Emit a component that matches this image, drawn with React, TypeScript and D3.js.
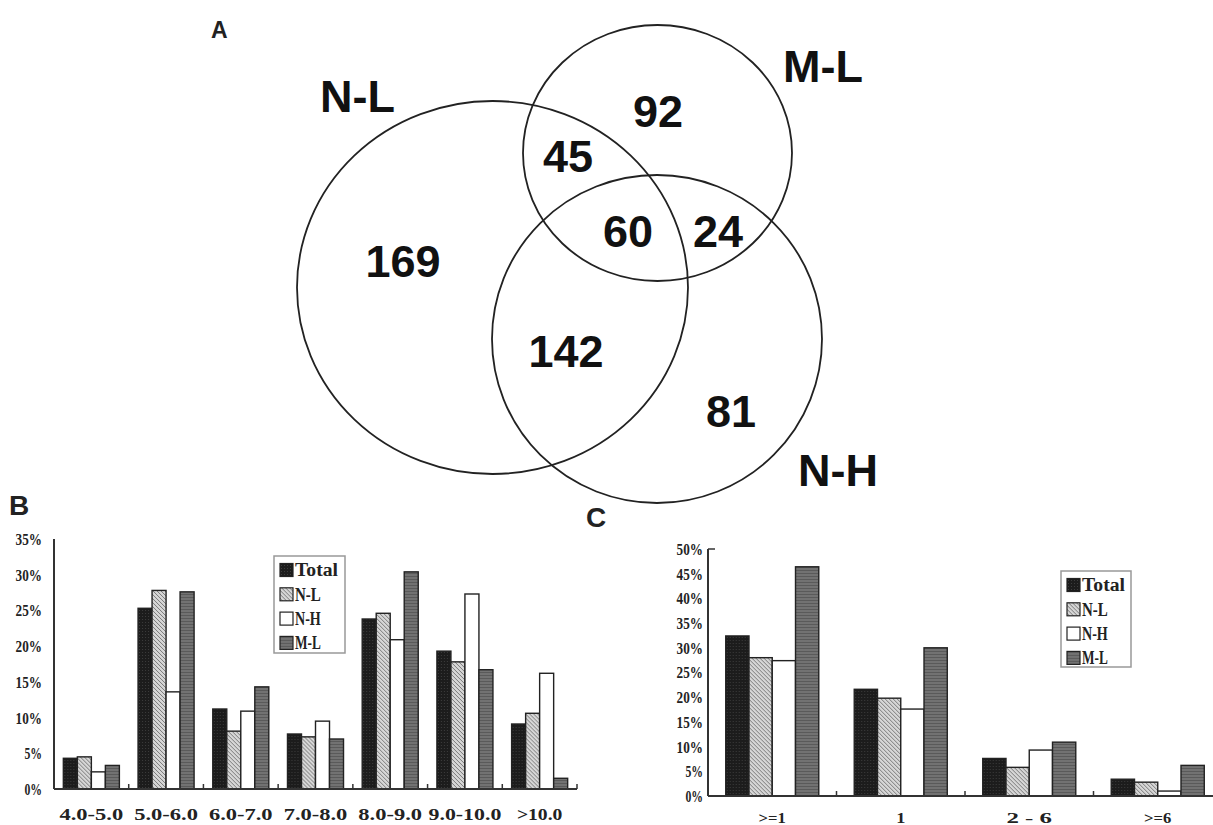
import * as d3 from "d3";
import { useEffect, useRef } from "react";

// series shared by panels B and C
const seriesNames = ["Total", "N-L", "N-H", "M-L"];

// panel B (pI ranges)
const phCategories = ["4.0-5.0", "5.0-6.0", "6.0-7.0", "7.0-8.0", "8.0-9.0", "9.0-10.0", ">10.0"];
const phTotal = [4.3, 25.3, 11.2, 7.7, 23.8, 19.3, 9.1];
const phNL = [4.5, 27.8, 8.1, 7.3, 24.6, 17.8, 10.6];
const phNH = [2.4, 13.6, 10.9, 9.5, 20.9, 27.3, 16.2];
const phML = [3.3, 27.6, 14.3, 7.0, 30.4, 16.7, 1.5];
const phTicks = [0, 5, 10, 15, 20, 25, 30, 35];

// panel C (transmembrane domains)
const tmCategories = [">=1", "1", "2 - 6", ">=6"];
const tmTotal = [32.4, 21.6, 7.6, 3.4];
const tmNL = [28.0, 19.8, 5.8, 2.8];
const tmNH = [27.4, 17.6, 9.3, 1.0];
const tmML = [46.4, 30.0, 10.9, 6.2];
const tmTicks = [0, 5, 10, 15, 20, 25, 30, 35, 40, 45, 50];

// panel A (venn)
const vennSets = ["N-L", "M-L", "N-H"];
const vennCounts = [169, 92, 81, 45, 24, 142, 60];

const fills = ["url(#pTotal)", "url(#pNL)", "#ffffff", "url(#pML)"];
const serif = "'Liberation Serif', 'DejaVu Serif', serif";
const sans = "'Liberation Sans', Arial, sans-serif";

function drawBars(g, cfg) {
  const { cats, series, ticks, x0, x1, y0, y1, max, pIn, labelX, legend, topTick, labelY, labelSize } = cfg;
  const x = d3.scaleBand().domain(cats).range([x0, x1]).paddingInner(pIn).paddingOuter(pIn / 2);
  const xs = d3.scaleBand().domain(seriesNames).range([0, x.bandwidth()]);
  const y = d3.scaleLinear().domain([0, max]).range([y0, y1]);

  const groups = g.selectAll("g.grp").data(cats).enter().append("g")
    .attr("transform", (d) => `translate(${x(d)},0)`);
  groups.selectAll("rect").data((d, i) => series.map((s, k) => ({ k, v: s[i] })))
    .enter().append("rect")
    .attr("x", (d) => xs(seriesNames[d.k]))
    .attr("y", (d) => y(d.v))
    .attr("width", xs.bandwidth())
    .attr("height", (d) => y(0) - y(d.v))
    .attr("fill", (d) => fills[d.k])
    .attr("stroke", "#222")
    .attr("stroke-width", 1.4);

  // axes
  g.append("line").attr("x1", x0).attr("x2", x0).attr("y1", y1).attr("y2", y0)
    .attr("stroke", "#333").attr("stroke-width", 2);
  if (topTick) {
    g.append("line").attr("x1", x0).attr("x2", x0 + 7).attr("y1", y1).attr("y2", y1)
      .attr("stroke", "#333").attr("stroke-width", 1.5);
  }
  g.append("line").attr("x1", x0).attr("x2", Math.min(x1, 1213)).attr("y1", y0).attr("y2", y0)
    .attr("stroke", "#333").attr("stroke-width", 2);
  const step = x.step();
  g.selectAll("line.tk").data(cats).enter().append("line")
    .attr("x1", (d) => x(d) + x.bandwidth() + (step - x.bandwidth()) / 2)
    .attr("x2", (d) => x(d) + x.bandwidth() + (step - x.bandwidth()) / 2)
    .attr("y1", y0).attr("y2", y0 - 5)
    .attr("stroke", "#333").attr("stroke-width", 1.5);

  g.selectAll("text.yt").data(ticks).enter().append("text")
    .attr("x", labelX).attr("y", (d) => y(d))
    .attr("dy", "0.36em").attr("text-anchor", "end")
    .attr("font-family", serif).attr("font-weight", "bold").attr("font-size", 16.5)
    .attr("textLength", (d) => `${d}%`.length * 8.8)
    .attr("lengthAdjust", "spacingAndGlyphs")
    .attr("fill", "#222")
    .text((d) => `${d}%`);

  g.selectAll("text.xt").data(cats).enter().append("text")
    .attr("x", (d) => x(d) + x.bandwidth() / 2).attr("y", labelY)
    .attr("text-anchor", "middle")
    .attr("font-family", serif).attr("font-weight", "bold").attr("font-size", labelSize)
    .attr("textLength", (d) => d.length * 9.1)
    .attr("lengthAdjust", "spacingAndGlyphs")
    .attr("fill", "#222")
    .text((d) => d);

  // legend
  const lg = g.append("g");
  lg.append("rect").attr("x", legend.x).attr("y", legend.y).attr("width", legend.w).attr("height", legend.h)
    .attr("fill", "#fff").attr("stroke", "#999").attr("stroke-width", 1.5);
  const items = lg.selectAll("g").data(seriesNames).enter().append("g")
    .attr("transform", (d, i) => `translate(${legend.x + 6},${legend.y + 14 + i * 24.3})`);
  items.append("rect").attr("x", 0).attr("y", -6.5).attr("width", 13).attr("height", 13)
    .attr("fill", (d, i) => fills[i]).attr("stroke", "#222").attr("stroke-width", 1.2);
  items.append("text").attr("x", 15).attr("y", 0).attr("dy", "0.36em")
    .attr("font-family", serif).attr("font-weight", "bold").attr("font-size", 18)
    .attr("textLength", (d) => d.length * 8.6)
    .attr("lengthAdjust", "spacingAndGlyphs")
    .attr("fill", "#222")
    .text((d) => d);
}

export default function App() {
  const svgRef = useRef(null);

  useEffect(() => {
    const svg = d3.select(svgRef.current);
    svg.selectAll("g.chart").remove();
    const root = svg.append("g").attr("class", "chart");

    // ---- Panel A: venn ----
    const ellipses = [
      { cx: 492.5, cy: 287.5, rx: 195.5, ry: 186.5 },
      { cx: 657.5, cy: 153, rx: 134.5, ry: 128 },
      { cx: 657, cy: 339, rx: 165, ry: 164 },
    ];
    const setLabelPos = [
      { x: 320, y: 112 },
      { x: 783, y: 82 },
      { x: 798, y: 486 },
    ];
    const countPos = [
      { x: 403, y: 277 },
      { x: 658, y: 127 },
      { x: 731, y: 427 },
      { x: 568, y: 172 },
      { x: 718, y: 247 },
      { x: 566, y: 367 },
      { x: 628, y: 247 },
    ];
    const venn = root.append("g");
    venn.selectAll("ellipse").data(ellipses).enter().append("ellipse")
      .attr("cx", (d) => d.cx).attr("cy", (d) => d.cy)
      .attr("rx", (d) => d.rx).attr("ry", (d) => d.ry)
      .attr("fill", "none").attr("stroke", "#222").attr("stroke-width", 1.8);
    venn.selectAll("text.set").data(vennSets).enter().append("text")
      .attr("x", (d, i) => setLabelPos[i].x).attr("y", (d, i) => setLabelPos[i].y)
      .attr("font-family", sans).attr("font-weight", "bold").attr("font-size", 45)
      .attr("fill", "#111").text((d) => d);
    venn.selectAll("text.cnt").data(vennCounts).enter().append("text")
      .attr("x", (d, i) => countPos[i].x).attr("y", (d, i) => countPos[i].y)
      .attr("text-anchor", "middle")
      .attr("font-family", sans).attr("font-weight", "bold").attr("font-size", 45)
      .attr("fill", "#111").text((d) => d);

    // panel letters
    const letters = [
      { t: "A", x: 211, y: 38, s: 23 },
      { t: "B", x: 9, y: 515, s: 28 },
      { t: "C", x: 586, y: 527, s: 28 },
    ];
    root.selectAll("text.letter").data(letters).enter().append("text")
      .attr("x", (d) => d.x).attr("y", (d) => d.y)
      .attr("font-family", sans).attr("font-weight", "bold").attr("font-size", (d) => d.s)
      .attr("fill", "#222").text((d) => d.t);

    // ---- Panel B ----
    drawBars(root.append("g"), {
      cats: phCategories,
      series: [phTotal, phNL, phNH, phML],
      ticks: phTicks,
      x0: 54, x1: 577, y0: 789, y1: 539, max: 35, pIn: 0.25,
      labelX: 42, labelY: 820, labelSize: 17, topTick: false,
      legend: { x: 274, y: 556, w: 71, h: 97 },
    });

    // ---- Panel C ----
    drawBars(root.append("g"), {
      cats: tmCategories,
      series: [tmTotal, tmNL, tmNH, tmML],
      ticks: tmTicks,
      x0: 708, x1: 1222, y0: 796, y1: 549, max: 50, pIn: 0.276,
      labelX: 703, labelY: 823, labelSize: 15, topTick: true,
      legend: { x: 1061, y: 571, w: 70, h: 96 },
    });
  }, []);

  return (
    <svg
      ref={svgRef}
      width={1213}
      height={825}
      style={{ position: "absolute", left: 0, top: 0, background: "#fff" }}
    >
      <defs>
        <pattern id="pTotal" width="3" height="3" patternUnits="userSpaceOnUse">
          <rect width="3" height="3" fill="#1c1c1c" />
          <rect x="1" y="1" width="1" height="1" fill="#3c3c3c" />
        </pattern>
        <pattern id="pNL" width="4" height="4" patternUnits="userSpaceOnUse">
          <rect width="4" height="4" fill="#d6d6d6" />
          <path d="M-1,-1 L5,5 M-1,3 L1,5 M3,-1 L5,1" stroke="#7a7a7a" strokeWidth="1" />
        </pattern>
        <pattern id="pML" width="3" height="3" patternUnits="userSpaceOnUse">
          <rect width="3" height="3" fill="#727272" />
          <line x1="0" y1="0.5" x2="3" y2="0.5" stroke="#5a5a5a" strokeWidth="1" />
        </pattern>
      </defs>
    </svg>
  );
}
